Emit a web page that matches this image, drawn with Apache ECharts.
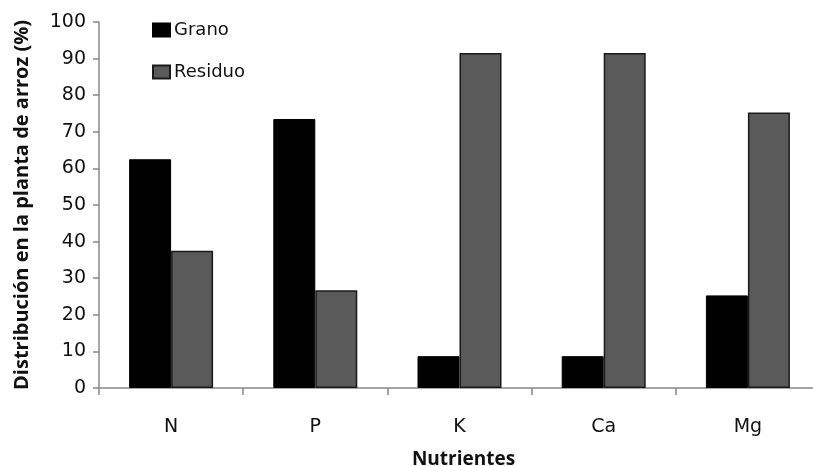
<!DOCTYPE html>
<html><head><meta charset="utf-8">
<script src="https://cdn.jsdelivr.net/npm/echarts@6/dist/echarts.min.js"></script>
<style>html,body{margin:0;padding:0;background:#fff}#c{width:813px;height:466px}</style>
</head><body><div id="c"></div>
<script>
const categories = ['N', 'P', 'K', 'Ca', 'Mg'];
const grano = [62.5, 73.5, 8.7, 8.7, 25.3];
const residuo = [37.5, 26.7, 91.5, 91.5, 75.3];
const yTicks = [0, 10, 20, 30, 40, 50, 60, 70, 80, 90, 100];

const font = '"DejaVu Sans", sans-serif';
const boldFont = '"Open Sans", "Noto Sans", sans-serif';
const chart = echarts.init(document.getElementById('c'), null, {renderer: 'canvas'});
chart.setOption({
  animation: false,
  backgroundColor: '#fff',
  grid: {left: 99, width: 721, top: 22, bottom: 78, containLabel: false, outerBoundsMode: 'none'},
  legend: {
    orient: 'vertical', left: 147, top: 16, itemGap: 24, itemWidth: 17, itemHeight: 13,
    icon: 'rect',
    textStyle: {fontFamily: font, fontSize: 18, color: '#111', padding: [0, 0, 0, -1]},
    data: ['Grano', 'Residuo']
  },
  xAxis: {
    type: 'category', data: categories,
    name: 'Nutrientes', nameLocation: 'middle', nameGap: 62,
    nameTextStyle: {fontFamily: boldFont, fontWeight: 'bold', fontSize: 19, color: '#111', padding: [0, 0, 0, 8]},
    axisLine: {lineStyle: {color: '#888', width: 1.5}},
    axisTick: {show: true, length: 7, lineStyle: {color: '#888', width: 1.5}},
    axisLabel: {fontFamily: font, fontSize: 19, color: '#111', margin: 30}
  },
  yAxis: {
    type: 'value', min: yTicks[0], max: yTicks[yTicks.length - 1], interval: 10,
    name: 'Distribución en la planta de arroz (%)', nameLocation: 'middle', nameGap: 67,
    nameTextStyle: {fontFamily: boldFont, fontWeight: 'bold', fontSize: 20, color: '#111'},
    axisLine: {show: true, lineStyle: {color: '#888', width: 1.5}},
    axisTick: {show: true, length: 6, lineStyle: {color: '#888', width: 1.5}},
    axisLabel: {fontFamily: font, fontSize: 19, color: '#111', margin: 13},
    splitLine: {show: false}
  },
  series: [
    {name: 'Grano', type: 'bar', data: grano, barWidth: 42, barGap: '0%',
     itemStyle: {color: '#000', borderColor: '#000', borderWidth: 1}},
    {name: 'Residuo', type: 'bar', data: residuo, barWidth: 42,
     itemStyle: {color: '#5a5a5a', borderColor: '#1a1a1a', borderWidth: 1.5}}
  ]
});
</script></body></html>
